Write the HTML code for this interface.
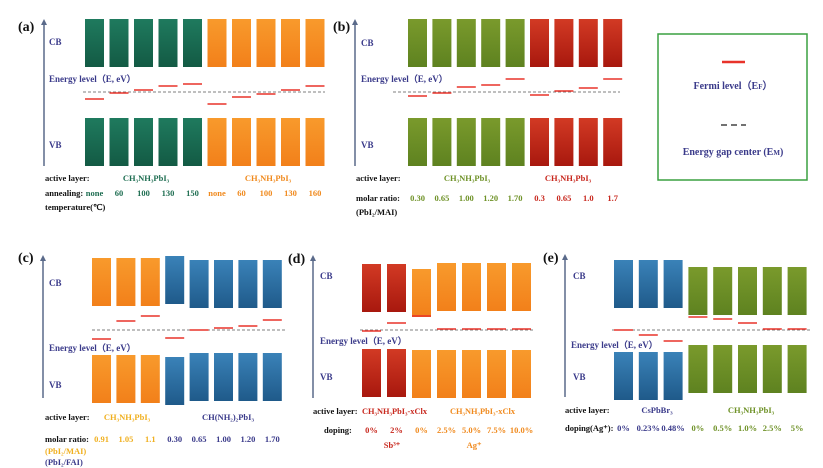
<!DOCTYPE html>
<html><head><meta charset="utf-8"><style>
html,body{margin:0;padding:0;background:#fff;width:823px;height:468px;overflow:hidden}
svg{display:block;font-family:"Liberation Serif",serif;font-weight:bold}
</style></head><body>
<svg id="fig" width="823" height="468" viewBox="0 0 823 468" xmlns="http://www.w3.org/2000/svg">
<defs>
<linearGradient id="gG" x1="0" y1="0" x2="0" y2="1"><stop offset="0" stop-color="#1f7a5e"/><stop offset="1" stop-color="#135a44"/></linearGradient>
<linearGradient id="gO" x1="0" y1="0" x2="0" y2="1"><stop offset="0" stop-color="#f89a2c"/><stop offset="1" stop-color="#f2801a"/></linearGradient>
<linearGradient id="gL" x1="0" y1="0" x2="0" y2="1"><stop offset="0" stop-color="#7a9a2c"/><stop offset="1" stop-color="#5e8220"/></linearGradient>
<linearGradient id="gR" x1="0" y1="0" x2="0" y2="1"><stop offset="0" stop-color="#d23a24"/><stop offset="1" stop-color="#a8180e"/></linearGradient>
<linearGradient id="gB" x1="0" y1="0" x2="0" y2="1"><stop offset="0" stop-color="#3a82b8"/><stop offset="1" stop-color="#1f5a8a"/></linearGradient>
</defs>
<g>
<rect x="658" y="34" width="149" height="146" fill="none" stroke="#3aa040" stroke-width="1.5"/>
<line x1="722" y1="62" x2="745" y2="62" stroke="#e8332a" stroke-width="2.5"/>
<text x="733" y="89" font-size="10" fill="#3a3a8a" text-anchor="middle">Fermi level（E<tspan font-size="7">F</tspan>）</text>
<line x1="721" y1="125" x2="746" y2="125" stroke="#444" stroke-width="1.5" stroke-dasharray="6,4"/>
<text x="733" y="155" font-size="10" fill="#3a3a8a" text-anchor="middle">Energy gap center (E<tspan font-size="7">M</tspan>)</text>
</g>
</svg>
<script>
// ---- data (energies relative to gap centre, arbitrary units) ----
const aColors=['G','G','G','G','G','O','O','O','O','O'];
const aFermi=[-0.7,-0.1,0.2,0.6,0.8,-1.2,-0.5,-0.2,0.2,0.6];
const aCB=[2.5,2.5,2.5,2.5,2.5,2.5,2.5,2.5,2.5,2.5];
const aVB=[-2.6,-2.6,-2.6,-2.6,-2.6,-2.6,-2.6,-2.6,-2.6,-2.6];
const aLabels=['none','60','100','130','150','none','60','100','130','160'];
const bColors=['L','L','L','L','L','R','R','R','R'];
const bFermi=[-0.4,-0.1,0.5,0.7,1.3,-0.3,0.1,0.4,1.3];
const bCB=[2.5,2.5,2.5,2.5,2.5,2.5,2.5,2.5,2.5];
const bVB=[-2.6,-2.6,-2.6,-2.6,-2.6,-2.6,-2.6,-2.6,-2.6];
const bLabels=['0.30','0.65','1.00','1.20','1.70','0.3','0.65','1.0','1.7'];
const cColors=['O','O','O','B','B','B','B','B'];
const cFermi=[-0.9,0.9,1.4,-0.8,0,0.2,0.4,1.0];
const cCB=[2.4,2.4,2.4,2.6,2.2,2.2,2.2,2.2];
const cVB=[-2.5,-2.5,-2.5,-2.7,-2.3,-2.3,-2.3,-2.3];
const cLabels=['0.91','1.05','1.1','0.30','0.65','1.00','1.20','1.70'];
const dColors=['R','R','O','O','O','O','O'];
const dFermi=[-0.1,0.7,1.4,0.1,0.1,0.1,0.1];
const dCB=[1.8,1.8,1.3,1.9,1.9,1.9,1.9];
const dVB=[-1.9,-1.9,-2.0,-2.0,-2.0,-2.0,-2.0];
const dLabels=['0%','2%','0%','2.5%','5.0%','7.5%','10.0%'];
const eColors=['B','B','B','L','L','L','L','L'];
const eFermi=[0,-0.5,-1.1,1.3,1.1,0.7,0.1,0.1];
const eCB=[2.2,2.2,2.2,1.5,1.5,1.5,1.5,1.5];
const eVB=[-2.2,-2.2,-2.2,-1.5,-1.5,-1.5,-1.5,-1.5];
const eLabels=['0%','0.23%','0.48%','0%','0.5%','1.0%','2.5%','5%'];

const TXT={G:'#1f6e52',O:'#f08a1e',L:'#6f9228',R:'#c8281e',B:'#3a3a8a',Y:'#f0b020'};
const NAVY='#3a3a8a';
const svg=document.getElementById('fig');
const NS='http://www.w3.org/2000/svg';
function mk(tag,attrs,parent,txt){const e=document.createElementNS(NS,tag);for(const k in attrs)e.setAttribute(k,attrs[k]);if(txt!==undefined)e.textContent=txt;(parent||svg).appendChild(e);return e;}

const panels=[
 {id:'a',lab:[18,31],axis:[44,19,166],x0:85,dx:24.5,dash:92,dashX:[83,325],colors:aColors,fermi:aFermi,cb:aCB,vb:aVB,labels:aLabels,labelY:196,lblColor:i=>TXT[aColors[i]],
  texts:[[49,45,'CB'],[49,82,'Energy level（E,  eV）'],[49,148,'VB']]},
 {id:'b',lab:[333,31],axis:[355,19,166],x0:408,dx:24.4,dash:92,dashX:[393,620],colors:bColors,fermi:bFermi,cb:bCB,vb:bVB,labels:bLabels,labelY:201,lblColor:i=>TXT[bColors[i]],
  texts:[[361,46,'CB'],[361,82,'Energy level（E,  eV）'],[361,148,'VB']]},
 {id:'c',lab:[18,262],axis:[43,255,398],x0:92,dx:24.4,dash:330,dashX:[92,285],colors:cColors,fermi:cFermi,cb:cCB,vb:cVB,labels:cLabels,labelY:442,lblColor:i=>i<3?TXT.Y:NAVY,
  texts:[[49,286,'CB'],[49,351,'Energy level（E,  eV）'],[49,388,'VB']]},
 {id:'d',lab:[288,263],axis:[313,255,398],x0:362,dx:25,dash:330,dashX:[360,533],colors:dColors,fermi:dFermi,cb:dCB,vb:dVB,labels:dLabels,labelY:433,lblColor:i=>TXT[dColors[i]],
  texts:[[320,279,'CB'],[320,344,'Energy level（E,  eV）'],[320,380,'VB']]},
 {id:'e',lab:[543,262],axis:[565,254,397],x0:614,dx:24.8,dash:330,dashX:[612,810],colors:eColors,fermi:eFermi,cb:eCB,vb:eVB,labels:eLabels,labelY:431,lblColor:i=>i<3?NAVY:TXT.L,
  texts:[[573,279,'CB'],[571,348,'Energy level（E,  eV）'],[573,380,'VB']]}
];
const SCALE=10, BW=19, BH=48;
panels.forEach(p=>{
  const g=mk('g',{});
  
  
  const y=v=>p.dash-v*SCALE;
  const x=i=>p.x0+i*p.dx;
  const t=mk('text',{x:p.lab[0],y:p.lab[1],'font-size':14,fill:'#111'},g,'('+p.id+')');
  
  
  const ax=mk('line',{x1:p.axis[0],y1:p.axis[2],x2:p.axis[0],y2:p.axis[1]+4,stroke:'#5a6a8a','stroke-width':1.5},g);
  
  
  mk('path',{d:`M${p.axis[0]-3},${p.axis[1]+6} L${p.axis[0]},${p.axis[1]} L${p.axis[0]+3},${p.axis[1]+6}Z`,fill:'#5a6a8a'},g);
  p.texts.forEach(tt=>{const e=mk('text',{x:tt[0],y:tt[1],'font-size':9,fill:NAVY},g,tt[2]);
    
    });
  const dl=mk('line',{x1:p.dashX[0],y1:p.dash,x2:p.dashX[1],y2:p.dash,stroke:'#555','stroke-width':0.8,'stroke-dasharray':'3,2'},g);
  
  
  p.colors.forEach((c,i)=>{
    const cbBot=y(p.cb[i]);
    const r1=mk('rect',{x:x(i),y:cbBot-BH,width:BW,height:BH,fill:'url(#g'+c+')'},g);
    
    
    const vbTop=y(p.vb[i]);
    const r2=mk('rect',{x:x(i),y:vbTop,width:BW,height:BH,fill:'url(#g'+c+')'},g);
    
    
    const f=mk('line',{x1:x(i),y1:y(p.fermi[i]),x2:x(i)+BW,y2:y(p.fermi[i]),stroke:'#e8332a','stroke-width':1.6},g);
    
    
    const l=mk('text',{x:x(i)+BW/2,y:p.labelY,'font-size':8.5,fill:p.lblColor(i),'text-anchor':'middle'},g,p.labels[i]);
    
    
  });
});
// extra row texts: x, y, colour, text, anchor, optional textLength
const rows=[
 [45,181,'#111','active layer:','start'],[45,196,'#111','annealing:','start'],[45,210,'#111','temperature(℃)','start'],
 [146,181,TXT.G,'CH₃NH₃PbI₃','middle'],[268,181,TXT.O,'CH₃NH₃PbI₃','middle'],
 [356,181,'#111','active layer:','start'],[356,201,'#111','molar ratio:','start'],[356,215,'#111','(PbI₂/MAI)','start'],
 [467,181,TXT.L,'CH₃NH₃PbI₃','middle'],[568,181,TXT.R,'CH₃NH₃PbI₃','middle'],
 [45,420,'#111','active layer:','start'],[45,442,'#111','molar ratio:','start'],[45,454,TXT.Y,'(PbI₂/MAI)','start'],[45,465,NAVY,'(PbI₂/FAI)','start'],
 [127,420,TXT.Y,'CH₃NH₃PbI₃','middle'],[228,420,NAVY,'CH(NH₂)₂PbI₃','middle'],
 [313,414,'#111','active layer:','start'],[324,433,'#111','doping:','start'],
 [362,414,TXT.R,'CH₃NH₃PbI₃-xClx','start',65],[450,414,TXT.O,'CH₃NH₃PbI₃-xClx','start',65],
 [392,448,TXT.R,'Sb³⁺','middle'],[474,448,TXT.O,'Ag⁺','middle'],
 [565,413,'#111','active layer:','start'],[565,431,'#111','doping(Ag⁺):','start'],
 [657,413,NAVY,'CsPbBr₃','middle'],[751,413,TXT.L,'CH₃NH₃PbI₃','middle']
];
rows.forEach(r=>{const at={x:r[0],y:r[1],'font-size':8.5,fill:r[2],'text-anchor':r[4]};
  if(r[5]){at.textLength=r[5];at.lengthAdjust='spacingAndGlyphs';}
  const e=mk('text',at,svg,r[3]);
  
  });
</script>
</body></html>
